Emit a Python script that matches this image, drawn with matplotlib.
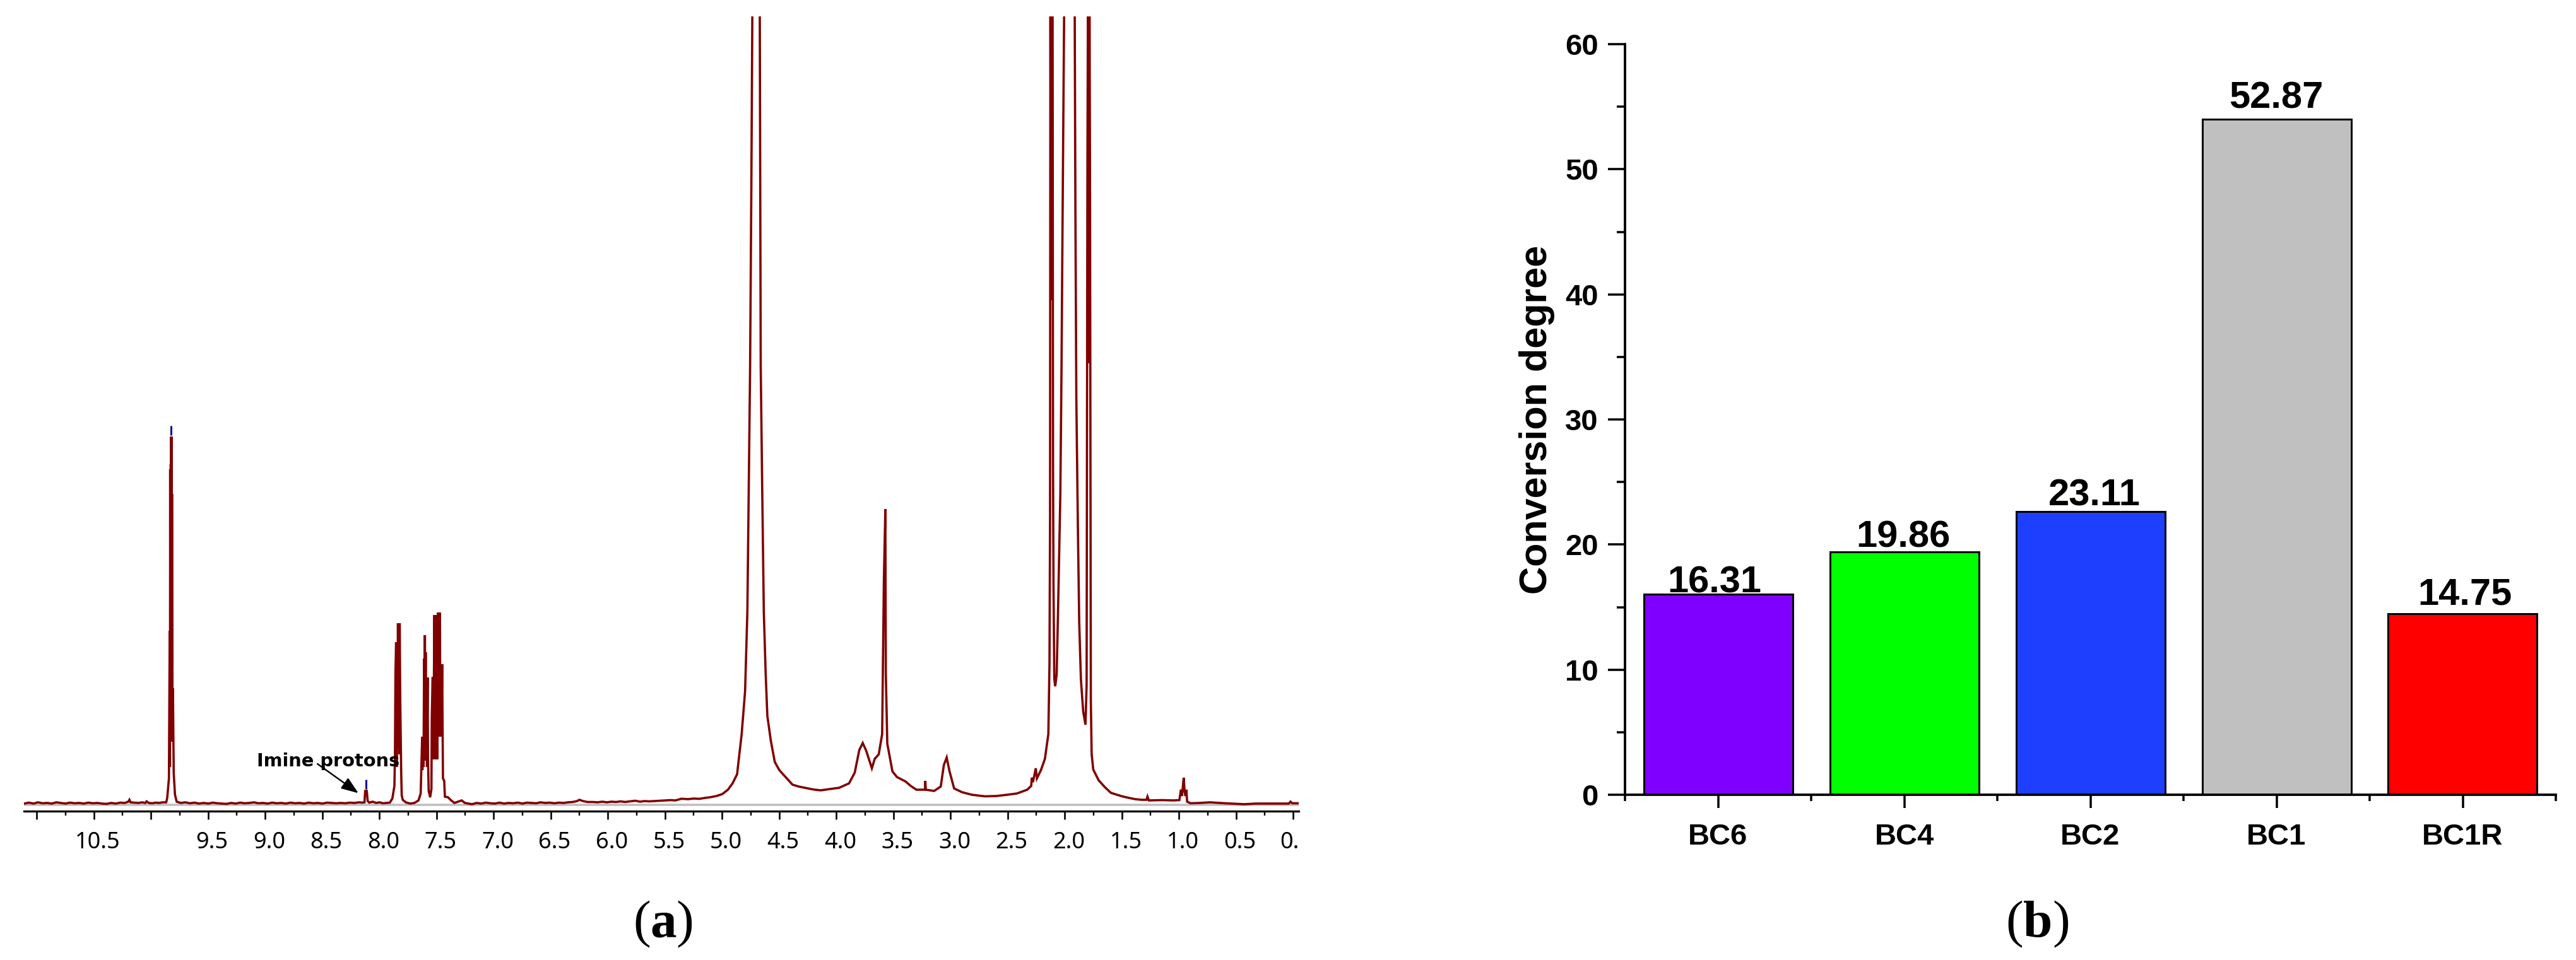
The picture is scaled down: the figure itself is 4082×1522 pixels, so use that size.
import matplotlib
matplotlib.use("Agg")
import matplotlib.pyplot as plt
from matplotlib.ticker import MultipleLocator, FixedLocator
from matplotlib.transforms import ScaledTranslation

# ---------- data ----------
spectrum_trace = [
 (11.11,2),(11.07,3.5),(11.03,2),(10.99,4),(10.95,2.5),(10.91,3),(10.87,2),(10.83,4),(10.79,3),(10.75,2),
 (10.71,3.5),(10.67,2.5),(10.63,3),(10.59,2),(10.55,3.5),(10.51,2.5),(10.47,3),(10.43,2),(10.39,1.5),(10.35,3),
 (10.31,2),(10.27,3.5),(10.23,3),(10.20,5),(10.19,8),(10.18,4),(10.15,3.5),(10.11,3),(10.08,4),(10.05,3),
 (10.04,5.5),(10.02,3),(9.99,2.5),(9.96,3.5),(9.93,3),(9.90,4),(9.868,4),(9.859,11),(9.844,42),(9.837,276),
 (9.835,60),(9.833,532),(9.831,100),(9.828,540),(9.826,120),(9.824,584),(9.822,120),(9.820,584),(9.818,120),(9.817,493),
 (9.815,100),(9.809,185),(9.802,50),(9.791,16),
 (9.776,5),(9.74,3),(9.70,4),(9.66,2.5),(9.62,3.5),(9.58,2),(9.54,3),(9.50,2),(9.46,3.5),(9.42,2.5),
 (9.38,2),(9.34,1.5),(9.30,3),(9.26,2),(9.22,3.5),(9.18,2.5),(9.14,3),(9.10,4),(9.06,2.5),(9.02,3),
 (8.98,2),(8.94,3.5),(8.90,2.5),(8.86,3),(8.82,2),(8.78,3.5),(8.74,2.5),(8.70,3),(8.66,2),(8.62,3.5),
 (8.58,2.5),(8.54,3),(8.50,2),(8.46,3.5),(8.42,3),(8.38,2.5),(8.34,3),(8.30,2.5),(8.26,3.5),(8.22,3),
 (8.18,4),(8.15,3.5),(8.132,4),(8.126,22),(8.112,22),(8.104,6),(8.09,3.5),(8.06,5),(8.03,3),(8.00,4),
 (7.97,2.5),(7.94,3),(7.91,3.5),(7.888,10),(7.870,30),(7.865,82),(7.861,208),(7.855,258),(7.850,60),(7.846,258),
 (7.842,90),(7.839,288),(7.835,100),(7.830,288),(7.827,80),(7.824,288),(7.819,168),(7.811,55),(7.806,15),(7.797,8),
 (7.771,4),(7.732,2),(7.695,3),(7.659,7),(7.640,18),(7.633,68),(7.627,108),(7.625,55),(7.618,108),(7.615,60),
 (7.610,232),(7.607,70),(7.603,269),(7.600,70),(7.596,242),(7.593,70),(7.590,202),(7.585,60),(7.579,202),(7.576,75),
 (7.570,22),(7.557,12),(7.546,25),(7.543,138),(7.535,203),(7.531,72),(7.524,203),(7.520,301),(7.516,72),(7.510,301),
 (7.506,72),(7.502,301),(7.498,205),(7.495,72),(7.491,272),(7.487,305),(7.484,110),(7.480,305),(7.477,108),(7.474,305),
 (7.471,275),(7.468,108),(7.463,223),(7.458,108),(7.452,223),(7.449,150),(7.445,42),(7.434,38),(7.428,13),(7.401,12),
 (7.373,7),(7.345,3),(7.281,7),(7.253,3),(7.191,1),(7.15,3),(7.11,2),(7.07,3.5),(7.03,2.5),(6.99,2),
 (6.95,3.5),(6.91,2),(6.87,3),(6.83,2.5),(6.79,3.5),(6.75,2),(6.71,3.5),(6.67,3),(6.63,2.5),(6.59,4),
 (6.55,3),(6.51,3.5),(6.47,2.5),(6.43,3.5),(6.39,3),(6.35,4),(6.31,4.5),(6.27,6),(6.251,8),(6.22,6),
 (6.18,4.5),(6.13,4.5),(6.09,4),(6.05,5),(6.01,4),(5.97,5),(5.93,4.5),(5.89,5.5),(5.85,4.5),(5.81,5.5),
 (5.76,6.5),(5.72,5),(5.68,6),(5.64,5.5),(5.59,6),(5.55,6.5),(5.50,7),(5.45,7.5),(5.41,7),(5.356,9.7),
 (5.30,9),(5.25,10),(5.20,9.5),(5.15,11),(5.107,12),(5.05,14),(5.00,17),(4.95,24),(4.91,34),(4.87,48.5),
 (4.83,112),(4.80,180),(4.78,306),(4.768,500),(4.756,694),(4.745,985),(4.735,1300),(4.672,1300),(4.663,694),(4.65,500),
 (4.636,306),(4.62,209),(4.605,141),(4.575,102),(4.54,68),(4.50,55),
 (4.46,47),(4.385,32),(4.33,29),(4.25,26),(4.19,24),(4.137,23),(4.06,25),(3.977,27),(3.89,34),
 (3.84,51),(3.80,87),(3.77,98),(3.74,86),(3.69,58),(3.665,73),(3.63,80),(3.60,112),(3.585,354),(3.572,469),
 (3.568,209),(3.555,97),(3.51,53),(3.47,44),(3.395,37),(3.35,30),(3.30,24),(3.225,24),(3.222,38),(3.218,24),
 (3.145,22),(3.087,29),(3.06,63),(3.035,75),(3.01,53),(2.97,26),(2.90,20),(2.815,16),(2.70,13.5),(2.60,14),
 (2.505,16),(2.42,18),(2.33,24),(2.295,30),(2.29,43),(2.28,36),(2.255,58),(2.245,42),(2.21,55),(2.175,73),
 (2.145,112),(2.135,224),(2.13,455),(2.127,1300),(2.122,800),(2.118,1300),(2.108,1300),(2.104,535),(2.10,350),(2.093,200),
 (2.085,188),(2.072,207),(2.06,308),(2.04,493),(2.03,687),(2.02,939),(2.005,1300),(1.915,1300),(1.908,939),(1.90,645),
 (1.886,434),(1.875,291),(1.86,199),(1.84,148),(1.82,127),(1.81,190),(1.803,1007),(1.798,1300),(1.79,700),(1.785,1300),
 (1.78,965),(1.773,165),(1.766,81),(1.752,56),(1.705,39),(1.65,28),(1.597,19),(1.50,13.5),(1.44,11),(1.384,9),
 (1.33,8),(1.285,8),(1.277,13),(1.265,7),(1.15,7.5),(1.05,7),(0.998,7.5),(0.984,24),(0.975,14),(0.96,43),
 (0.952,22),(0.945,14),(0.937,24),(0.93,5),(0.90,2.5),(0.82,3),(0.73,4),(0.60,2.5),(0.43,1),(0.33,2),
 (0.24,2),(0.12,2),(0.04,2),(0.025,5),(0.01,2.5),(-0.05,2.5),
]
assignment_ppm = [9.824, 8.119]
assignment_low = [586, 25.5]
assignment_high = [601, 40]
ppm_major_ticks = [11.0, 10.5, 10.0, 9.5, 9.0, 8.5, 8.0, 7.5, 7.0, 6.5, 6.0, 5.5, 5.0, 4.5, 4.0, 3.5, 3.0, 2.5, 2.0, 1.5, 1.0, 0.5, 0.0]
ppm_labels = ["", "10.5", "", "9.5", "9.0", "8.5", "8.0", "7.5", "7.0", "6.5", "6.0", "5.5", "5.0", "4.5", "4.0", "3.5", "3.0", "2.5", "2.0", "1.5", "1.0", "0.5", "0."]

samples = ["BC6", "BC4", "BC2", "BC1", "BC1R"]
bar_heights = [16.04, 19.41, 22.65, 54.0, 14.47]
bar_labels = ["16.31", "19.86", "23.11", "52.87", "14.75"]
bar_colors = ["#8000FF", "#00FF00", "#1F3FFF", "#C0C0C0", "#FF0000"]
label_gaps_px = [2, 8, 9, 18, 15]
label_shift_px = [-6, -2, 6, -1, 3]

# ---------- layout ----------
W, H = 4082, 1522
DPI = 100
PX = 72 / DPI
fig = plt.figure(figsize=(W / DPI, H / DPI), dpi=DPI, facecolor="white")

def axes_px(x0, x1, ytop, ybot):
    return fig.add_axes([x0 / W, 1 - ybot / H, (x1 - x0) / W, (ybot - ytop) / H])

# ---------- panel (a) ----------
ax = axes_px(38, 2058, 26, 1285.7)
ax.set_xlim(11.113, -0.047)
ax.set_ylim(-9.7, 1250)
for s in ("top", "left", "right"):
    ax.spines[s].set_visible(False)
ax.spines["bottom"].set_linewidth(3.2 * PX)
ax.yaxis.set_visible(False)

ppm = [p for p, _ in spectrum_trace]
intensity = [v for _, v in spectrum_trace]
ax.axhline(0, color="#BFBFBF", lw=3.5 * PX, zorder=1)
ax.plot(ppm, intensity, color="#800000", lw=3.6 * PX, zorder=2, solid_joinstyle="miter")
ax.vlines(assignment_ppm, assignment_low, assignment_high, color="#00008B", lw=3 * PX, zorder=3)

ax.xaxis.set_major_locator(FixedLocator(ppm_major_ticks))
ax.xaxis.set_minor_locator(MultipleLocator(0.25))
ax.tick_params(axis="x", which="major", length=13 * PX, width=2.6 * PX, color="black", pad=19 * PX)
ax.tick_params(axis="x", which="minor", length=7 * PX, width=2.4 * PX, color="black")
ax.set_xticklabels(ppm_labels, fontfamily="Noto Sans", fontweight="bold", fontsize=26)
for lab in ax.get_xticklabels():
    shift = 6
    if lab.get_text() == "0.":
        shift = -6
    lab.set_transform(lab.get_transform() + ScaledTranslation(shift / DPI, 0, fig.dpi_scale_trans))

ax.text(9.075, 61.4, "Imine protons", fontfamily="DejaVu Sans", fontweight="bold",
        fontsize=20.8, ha="left", va="baseline", color="black", zorder=4)
ax.annotate("", xy=(8.185, 18.5), xytext=(8.544, 65),
            arrowprops=dict(arrowstyle="-|>,head_length=0.75,head_width=0.28", color="black",
                            lw=2.4 * PX, mutation_scale=22, shrinkA=0, shrinkB=0), zorder=4)

# ---------- panel (b) ----------
bx = axes_px(2575, 4050, 70, 1260)
bx.set_xlim(0.5, 5.5)
bx.set_ylim(0, 60)
for s in ("top", "right"):
    bx.spines[s].set_visible(False)
for s in ("left", "bottom"):
    bx.spines[s].set_linewidth(3.8 * PX)

positions = list(range(1, len(samples) + 1))
bars = bx.bar(positions, bar_heights, width=0.8, color=bar_colors, edgecolor="black",
              linewidth=3 * PX, zorder=2)
for pos, h, txt, gap, dx in zip(positions, bar_heights, bar_labels, label_gaps_px, label_shift_px):
    bx.annotate(txt, xy=(pos, h), xytext=(dx * PX, gap * PX), textcoords="offset points",
                ha="center", va="baseline", fontfamily="Liberation Sans", fontweight="bold",
                fontsize=43, color="black", zorder=3)

bx.set_xticks(positions)
bx.set_xticklabels(samples, fontfamily="Liberation Sans", fontweight="bold", fontsize=34)
bx.xaxis.set_minor_locator(MultipleLocator(1, offset=0.5))
bx.yaxis.set_major_locator(MultipleLocator(10))
bx.yaxis.set_minor_locator(MultipleLocator(5))
bx.tick_params(axis="x", which="major", length=21 * PX, width=3.5 * PX, pad=24 * PX)
bx.tick_params(axis="x", which="minor", length=10 * PX, width=3.5 * PX)
bx.tick_params(axis="y", which="major", length=27 * PX, width=3.5 * PX, pad=15 * PX)
bx.tick_params(axis="y", which="minor", length=13 * PX, width=3.5 * PX)
for lab in bx.get_yticklabels():
    lab.set_fontfamily("Liberation Sans")
    lab.set_fontweight("bold")
    lab.set_fontsize(34)

fig.text(2436 / W, 1 - 665 / H, "Conversion degree", rotation=90, ha="center", va="center",
         fontfamily="Liberation Sans", fontweight="bold", fontsize=44, color="black")

# ---------- captions ----------
SERIF = "Liberation Serif"
def caption(cx, letter, half):
    base = 1 - 1485 / H
    fig.text((cx - half) / W, base, "(", ha="right", va="baseline", fontfamily=SERIF, fontsize=60)
    fig.text(cx / W, base, letter, ha="center", va="baseline", fontfamily=SERIF, fontweight="bold", fontsize=60)
    fig.text((cx + half) / W, base, ")", ha="left", va="baseline", fontfamily=SERIF, fontsize=60)

caption(1051, "a", 20)
caption(3229, "b", 23)

fig.savefig("out.png", dpi=DPI, facecolor="white")
